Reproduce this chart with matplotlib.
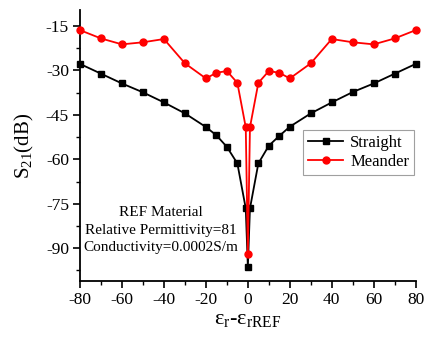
import numpy as np
import matplotlib
matplotlib.use('Agg')
import matplotlib.pyplot as plt
from matplotlib.ticker import MultipleLocator

plt.rcParams['font.family'] = ['Liberation Serif', 'DejaVu Serif']
plt.rcParams['mathtext.fontset'] = 'custom'
plt.rcParams['mathtext.rm'] = 'Liberation Serif'
plt.rcParams['mathtext.it'] = 'Liberation Serif:italic'
plt.rcParams['axes.unicode_minus'] = False

# 介电常数差值
eps_diff = [-80, -70, -60, -50, -40, -30, -20, -15, -10, -5, -1, 0,
            1, 5, 10, 15, 20, 30, 40, 50, 60, 70, 80]
# Straight 传输系数
straight = [-27.8, -31.1, -34.4, -37.4, -40.8, -44.5, -49.1, -51.9, -55.8, -61.4, -76.6, -96.3,
            -76.6, -61.4, -55.4, -52.1, -49.0, -44.5, -40.8, -37.3, -34.4, -31.1, -27.8]
# Meander 传输系数
meander = [-16.4, -19.2, -21.2, -20.5, -19.4, -27.6, -32.7, -30.8, -30.2, -34.2, -49.2, -92.1,
           -49.2, -34.2, -30.2, -30.8, -32.7, -27.6, -19.4, -20.5, -21.2, -19.2, -16.4]

fig = plt.figure(figsize=(4.29, 3.39), dpi=100)
ax = fig.add_axes([0.1865, 0.171, 0.7825, 0.7995])

ax.plot(eps_diff, straight, 'k-', marker='s', markersize=4.5, linewidth=1.3,
        label='Straight', clip_on=False, zorder=3)
ax.plot(eps_diff, meander, 'r-', marker='o', markersize=5, linewidth=1.3,
        label='Meander', clip_on=False, zorder=4)

ax.set_xlim(-80, 80)
ax.set_ylim(-101.1, -9.6)
ax.xaxis.set_major_locator(MultipleLocator(20))
ax.xaxis.set_minor_locator(MultipleLocator(10))
ax.set_yticks([-15, -30, -45, -60, -75, -90])
ax.yaxis.set_minor_locator(MultipleLocator(7.5))

for s in ['top', 'right']:
    ax.spines[s].set_visible(False)
for s in ['left', 'bottom']:
    ax.spines[s].set_linewidth(1.3)
ax.tick_params(which='major', direction='out', length=5, width=1.2, labelsize=12.5, pad=3)
ax.tick_params(which='minor', direction='out', length=3, width=1.0)

ax.set_xlabel(r'$\mathrm{\varepsilon_r}$-$\mathrm{\varepsilon_{rREF}}$', fontsize=16, labelpad=1)
ax.set_ylabel(r'$\mathrm{S_{21}}$(dB)', fontsize=15, labelpad=7)

leg = ax.legend(loc='upper right', bbox_to_anchor=(0.995, 0.557), fontsize=12,
                handlelength=2.1, frameon=True, fancybox=False, borderpad=0.3,
                labelspacing=0.15, handletextpad=0.4, borderaxespad=0)
leg.get_frame().set_edgecolor('#888888')
leg.get_frame().set_linewidth(0.8)

ax.text(-41.5, -84, 'REF Material\nRelative Permittivity=81\nConductivity=0.0002S/m',
        ha='center', va='center', fontsize=11, linespacing=1.45)

plt.savefig('out.png', dpi=100)
